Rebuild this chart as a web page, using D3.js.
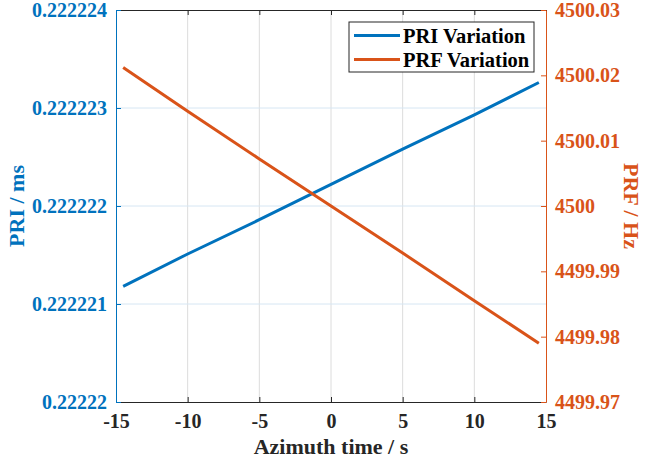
<!DOCTYPE html>
<html>
<head>
<meta charset="utf-8">
<script src="https://cdn.jsdelivr.net/npm/d3@7"></script>
<style>
  body { margin: 0; background: #fff; }
  svg text { font-family: "Liberation Serif", "Times New Roman", serif !important; font-weight: bold; }
</style>
</head>
<body>
<div id="chart"></div>
<script>
// azimuth time samples (s)
let times = [-14.5, -10, -5, 0, 5, 10, 14.5];
// PRI in ms
let pri = [0.22222118, 0.22222151, 0.22222186, 0.22222222, 0.22222258, 0.22222293, 0.22222326];
// PRF in Hz
let prf = [4500.0212, 4500.0145, 4500.0072, 4500.0000, 4499.9928, 4499.9855, 4499.9790];

let xTicks = [-15, -10, -5, 0, 5, 10, 15];
let xLabels = ['-15', '-10', '-5', '0', '5', '10', '15'];
let leftTicks = [0.22222, 0.222221, 0.222222, 0.222223, 0.222224];
let leftLabels = ['0.22222', '0.222221', '0.222222', '0.222223', '0.222224'];
let rightTicks = [4499.97, 4499.98, 4499.99, 4500, 4500.01, 4500.02, 4500.03];
let rightLabels = ['4499.97', '4499.98', '4499.99', '4500', '4500.01', '4500.02', '4500.03'];

let blue = '#0072BD';
let orange = '#D95319';
let font = '"Liberation Serif", "Times New Roman", serif';

let width = 646, height = 463;
let margin = {top: 10, right: 100, bottom: 61, left: 116};

let svg = d3.select('#chart').append('svg').attr('width', width).attr('height', height);

let x = d3.scaleLinear().domain([-15, 15]).range([margin.left, width - margin.right]);
let yL = d3.scaleLinear().domain([0.22222, 0.222224]).range([height - margin.bottom, margin.top]);
let yR = d3.scaleLinear().domain([4499.97, 4500.03]).range([height - margin.bottom, margin.top]);

let x0 = margin.left, x1 = width - margin.right;
let y0 = height - margin.bottom, y1 = margin.top;

// grid
svg.append('g').selectAll('line').data(xTicks.slice(1, -1)).join('line')
    .attr('x1', d => x(d)).attr('x2', d => x(d))
    .attr('y1', y0).attr('y2', y1)
    .attr('stroke', '#dcdcdc').attr('stroke-width', 1);
svg.append('g').selectAll('line').data(leftTicks.slice(1, -1)).join('line')
    .attr('x1', x0).attr('x2', x1)
    .attr('y1', d => yL(d)).attr('y2', d => yL(d))
    .attr('stroke', '#d6e6f3').attr('stroke-width', 1);

// axes
let xBottom = svg.append('g').attr('transform', `translate(0,${y0})`)
    .call(d3.axisBottom(x).tickValues(xTicks).tickSizeInner(-5).tickSizeOuter(0).tickPadding(12)
        .tickFormat((d, i) => xLabels[i]));
let xTop = svg.append('g').attr('transform', `translate(0,${y1})`)
    .call(d3.axisTop(x).tickValues(xTicks).tickSizeInner(-5).tickSizeOuter(0).tickFormat(''));
[xBottom, xTop].forEach(a => {
    a.selectAll('path, line').attr('stroke', '#262626');
    a.select('.domain').attr('stroke-width', 1.2);
});
xBottom.selectAll('text').attr('fill', '#262626');

let left = svg.append('g').attr('transform', `translate(${x0},0)`)
    .call(d3.axisLeft(yL).tickValues(leftTicks).tickSizeInner(-5).tickSizeOuter(0).tickPadding(9)
        .tickFormat((d, i) => leftLabels[i]));
left.selectAll('path, line').attr('stroke', blue);
left.selectAll('text').attr('fill', blue);

let right = svg.append('g').attr('transform', `translate(${x1},0)`)
    .call(d3.axisRight(yR).tickValues(rightTicks).tickSizeInner(-5).tickSizeOuter(0).tickPadding(9)
        .tickFormat((d, i) => rightLabels[i]));
right.selectAll('path, line').attr('stroke', orange);
right.selectAll('text').attr('fill', orange);

[xBottom, left, right].forEach(a => {
    a.attr('font-family', null).attr('font-size', null);
    a.selectAll('text').style('font-family', font).style('font-weight', 'bold').style('font-size', '20px');
});

// lines
let priLine = d3.line().x((d, i) => x(times[i])).y(d => yL(d));
let prfLine = d3.line().x((d, i) => x(times[i])).y(d => yR(d));

svg.append('path').datum(pri).attr('d', priLine)
    .attr('fill', 'none').attr('stroke', blue).attr('stroke-width', 3);
svg.append('path').datum(prf).attr('d', prfLine)
    .attr('fill', 'none').attr('stroke', orange).attr('stroke-width', 3);

// axis labels
svg.append('text').attr('x', (x0 + x1) / 2).attr('y', 454)
    .attr('text-anchor', 'middle').attr('fill', '#262626').style('font-size', '22px')
    .text('Azimuth time / s');
svg.append('text').attr('transform', `translate(24,${(y0 + y1) / 2}) rotate(-90)`)
    .attr('text-anchor', 'middle').attr('fill', blue).style('font-size', '22px')
    .text('PRI / ms');
svg.append('text').attr('transform', `translate(624,${(y0 + y1) / 2}) rotate(90)`)
    .attr('text-anchor', 'middle').attr('fill', orange).style('font-size', '22px')
    .text('PRF / Hz');

// legend
let legend = svg.append('g').attr('transform', 'translate(349,22)');
legend.append('rect').attr('width', 185).attr('height', 50)
    .attr('fill', '#fff').attr('stroke', '#262626').attr('stroke-width', 1);
let items = [['PRI Variation', blue], ['PRF Variation', orange]];
items.forEach(([name, col], i) => {
    let yy = 13.5 + i * 24;
    legend.append('line').attr('x1', 5).attr('x2', 51).attr('y1', yy).attr('y2', yy)
        .attr('stroke', col).attr('stroke-width', 3);
    legend.append('text').attr('x', 54).attr('y', yy + 7)
        .attr('fill', '#000').style('font-size', '20.5px').text(name);
});
</script>
</body>
</html>
